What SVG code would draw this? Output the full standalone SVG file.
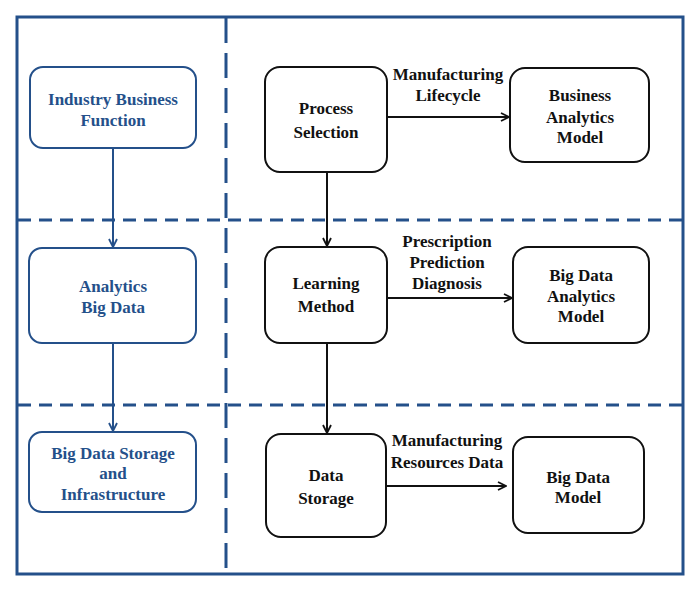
<svg xmlns="http://www.w3.org/2000/svg" width="700" height="589" viewBox="0 0 700 589">
<defs>
<style>
.frame{fill:none;stroke:#24508a;stroke-width:3}
.dh{fill:none;stroke:#24508a;stroke-width:3;stroke-dasharray:13 8}
.dv{fill:none;stroke:#24508a;stroke-width:3;stroke-dasharray:25 10}
.lb{fill:#fff;stroke:#24508a;stroke-width:2}
.rb{fill:#fff;stroke:#111;stroke-width:2}
.lt{fill:#24508a}
.rt{fill:#111}
.la{fill:none;stroke:#24508a;stroke-width:2}
.ra{fill:none;stroke:#111;stroke-width:2}
</style>
<marker id="ab" viewBox="0 0 10 10" refX="9" refY="5" markerWidth="10" markerHeight="10" markerUnits="userSpaceOnUse" orient="auto"><path d="M1,1 L9,5 L1,9" fill="none" stroke="#24508a" stroke-width="1.8"/></marker>
<marker id="ak" viewBox="0 0 10 10" refX="9" refY="5" markerWidth="10" markerHeight="10" markerUnits="userSpaceOnUse" orient="auto"><path d="M1,1 L9,5 L1,9" fill="none" stroke="#111" stroke-width="1.8"/></marker>
</defs>
<rect width="700" height="589" fill="#fff"/>
<g id="frame">
<rect class="frame" x="17" y="17" width="666" height="557"/>
<line class="dv" x1="226" y1="18" x2="226" y2="573"/>
<line class="dh" x1="18" y1="220" x2="682" y2="220"/>
<line class="dh" x1="18" y1="405" x2="682" y2="405"/>
</g>
<g id="connectors">
<line class="la" x1="113" y1="148" x2="113" y2="247" marker-end="url(#ab)"/>
<line class="la" x1="113" y1="343" x2="113" y2="431" marker-end="url(#ab)"/>
<line class="ra" x1="327" y1="172" x2="327" y2="246" marker-end="url(#ak)"/>
<line class="ra" x1="327" y1="343" x2="327" y2="433" marker-end="url(#ak)"/>
<line class="ra" x1="387" y1="117" x2="509" y2="117" marker-end="url(#ak)"/>
<line class="ra" x1="387" y1="298" x2="512" y2="298" marker-end="url(#ak)"/>
<line class="ra" x1="386" y1="486" x2="506" y2="486" marker-end="url(#ak)"/>
<text class="rt" font-family="Liberation Serif" font-weight="bold" font-size="17" text-anchor="middle" x="448" y="80">Manufacturing</text>
<text class="rt" font-family="Liberation Serif" font-weight="bold" font-size="17" text-anchor="middle" x="448" y="101">Lifecycle</text>
<text class="rt" font-family="Liberation Serif" font-weight="bold" font-size="17" text-anchor="middle" x="447" y="247">Prescription</text>
<text class="rt" font-family="Liberation Serif" font-weight="bold" font-size="17" text-anchor="middle" x="447" y="268">Prediction</text>
<text class="rt" font-family="Liberation Serif" font-weight="bold" font-size="17" text-anchor="middle" x="447" y="289">Diagnosis</text>
<text class="rt" font-family="Liberation Serif" font-weight="bold" font-size="17" text-anchor="middle" x="447" y="446">Manufacturing</text>
<text class="rt" font-family="Liberation Serif" font-weight="bold" font-size="17" text-anchor="middle" x="447" y="468">Resources Data</text>
</g>
<g id="industry">
<rect class="lb" x="30" y="67" width="166" height="81" rx="13"/>
<text class="lt" font-family="Liberation Serif" font-weight="bold" font-size="17" text-anchor="middle" x="113" y="105">Industry Business</text>
<text class="lt" font-family="Liberation Serif" font-weight="bold" font-size="17" text-anchor="middle" x="113" y="126">Function</text>
</g>
<g id="analytics">
<rect class="lb" x="29" y="248" width="167" height="95" rx="13"/>
<text class="lt" font-family="Liberation Serif" font-weight="bold" font-size="17" text-anchor="middle" x="113" y="292">Analytics</text>
<text class="lt" font-family="Liberation Serif" font-weight="bold" font-size="17" text-anchor="middle" x="113" y="313">Big Data</text>
</g>
<g id="storage-infra">
<rect class="lb" x="29" y="432" width="167" height="80" rx="13"/>
<text class="lt" font-family="Liberation Serif" font-weight="bold" font-size="17" text-anchor="middle" x="113" y="459">Big Data Storage</text>
<text class="lt" font-family="Liberation Serif" font-weight="bold" font-size="17" text-anchor="middle" x="113" y="479">and</text>
<text class="lt" font-family="Liberation Serif" font-weight="bold" font-size="17" text-anchor="middle" x="113" y="500">Infrastructure</text>
</g>
<g id="process">
<rect class="rb" x="265" y="67" width="122" height="105" rx="15"/>
<text class="rt" font-family="Liberation Serif" font-weight="bold" font-size="17" text-anchor="middle" x="326" y="114">Process</text>
<text class="rt" font-family="Liberation Serif" font-weight="bold" font-size="17" text-anchor="middle" x="326" y="138">Selection</text>
</g>
<g id="bam">
<rect class="rb" x="510" y="68" width="139" height="94" rx="15"/>
<text class="rt" font-family="Liberation Serif" font-weight="bold" font-size="17" text-anchor="middle" x="580" y="101">Business</text>
<text class="rt" font-family="Liberation Serif" font-weight="bold" font-size="17" text-anchor="middle" x="580" y="123">Analytics</text>
<text class="rt" font-family="Liberation Serif" font-weight="bold" font-size="17" text-anchor="middle" x="580" y="143">Model</text>
</g>
<g id="learning">
<rect class="rb" x="265" y="247" width="122" height="96" rx="15"/>
<text class="rt" font-family="Liberation Serif" font-weight="bold" font-size="17" text-anchor="middle" x="326" y="289">Learning</text>
<text class="rt" font-family="Liberation Serif" font-weight="bold" font-size="17" text-anchor="middle" x="326" y="312">Method</text>
</g>
<g id="bdam">
<rect class="rb" x="513" y="247" width="136" height="96" rx="15"/>
<text class="rt" font-family="Liberation Serif" font-weight="bold" font-size="17" text-anchor="middle" x="581" y="281">Big Data</text>
<text class="rt" font-family="Liberation Serif" font-weight="bold" font-size="17" text-anchor="middle" x="581" y="302">Analytics</text>
<text class="rt" font-family="Liberation Serif" font-weight="bold" font-size="17" text-anchor="middle" x="581" y="322">Model</text>
</g>
<g id="datastorage">
<rect class="rb" x="266" y="434" width="120" height="103" rx="15"/>
<text class="rt" font-family="Liberation Serif" font-weight="bold" font-size="17" text-anchor="middle" x="326" y="481">Data</text>
<text class="rt" font-family="Liberation Serif" font-weight="bold" font-size="17" text-anchor="middle" x="326" y="504">Storage</text>
</g>
<g id="bdm">
<rect class="rb" x="513" y="437" width="131" height="96" rx="15"/>
<text class="rt" font-family="Liberation Serif" font-weight="bold" font-size="17" text-anchor="middle" x="578" y="483">Big Data</text>
<text class="rt" font-family="Liberation Serif" font-weight="bold" font-size="17" text-anchor="middle" x="578" y="503">Model</text>
</g>
</svg>
